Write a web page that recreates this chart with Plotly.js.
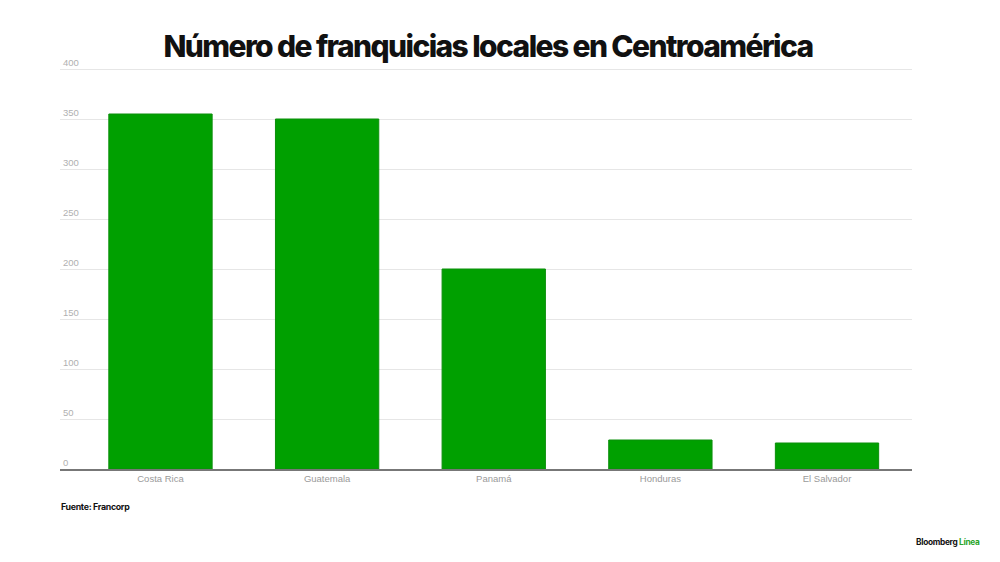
<!DOCTYPE html>
<html>
<head>
<meta charset="utf-8">
<script src="https://cdn.plot.ly/plotly-3.0.1.min.js"></script>
<style>
html,body{margin:0;padding:0;background:#fff;}
#chart{width:1000px;height:562px;}
.gtitle{letter-spacing:-1.6px;}
.annotation-text{letter-spacing:-0.3px;}
</style>
</head>
<body>
<div id="chart"></div>
<script>
const categories = ["Costa Rica", "Guatemala", "Panamá", "Honduras", "El Salvador"];
const franquicias = [355, 350, 200, 29, 26];
const yTicks = [0, 50, 100, 150, 200, 250, 300, 350, 400];

const trace = {
  type: "bar",
  x: categories,
  y: franquicias,
  marker: {color: "#00a000", line: {color: "#0b8f0b", width: 1}},
  hoverinfo: "x+y"
};

const layout = {
  width: 1000, height: 562,
  margin: {l: 60, r: 88, t: 44, b: 93},
  paper_bgcolor: "#ffffff", plot_bgcolor: "#ffffff",
  bargap: 0.38,
  showlegend: false,
  title: {
    text: "Número de franquicias locales en Centroamérica",
    font: {family: "Inter, 'Liberation Sans', sans-serif", size: 30, color: "#111111", weight: 800},
    x: 0.488, xanchor: "center", y: 0.917, yanchor: "middle"
  },
  xaxis: {
    type: "category",
    range: [-0.603, 4.51],
    showgrid: false,
    showline: true, linecolor: "#777777", linewidth: 2,
    ticks: "", ticklen: 0,
    tickfont: {family: "'Liberation Sans', Arial, sans-serif", size: 9.5, color: "#9a9a9a"},
    fixedrange: true
  },
  yaxis: {
    range: [0, 425],
    tickvals: yTicks,
    ticktext: yTicks.map(String),
    ticklabelposition: "inside top",
    ticks: "",
    showgrid: true, gridcolor: "#e6e6e6", gridwidth: 1,
    zeroline: false, showline: false,
    tickfont: {family: "'Liberation Sans', Arial, sans-serif", size: 9.5, color: "#b0b0b0"},
    fixedrange: true
  },
  annotations: [
    {text: "<b>Fuente: Francorp</b>", xref: "paper", yref: "paper", x: -0.001, y: -0.089,
     xanchor: "left", yanchor: "middle", showarrow: false,
     font: {family: "Inter, 'Liberation Sans', sans-serif", size: 8.8, color: "#111111"}},
    {text: "<b>Bloomberg <span style='color:#2aa52a'>Línea</span></b>", xref: "paper", yref: "paper",
     x: 1.082, y: -0.172, xanchor: "right", yanchor: "middle", showarrow: false,
     font: {family: "Inter, 'Liberation Sans', sans-serif", size: 8.3, color: "#111111"}}
  ]
};

Plotly.newPlot("chart", [trace], layout, {displayModeBar: false, staticPlot: true});
</script>
</body>
</html>
